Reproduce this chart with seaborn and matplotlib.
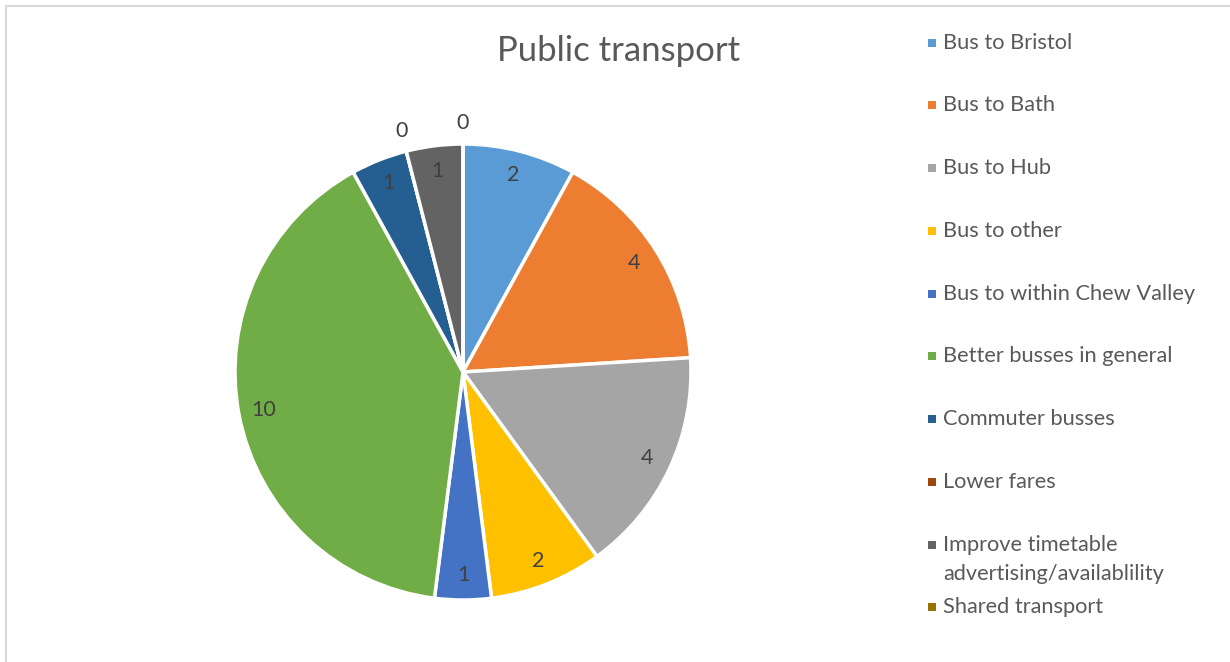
import matplotlib.pyplot as plt
import seaborn as sns
import numpy as np
from matplotlib.patches import Rectangle

# --- data ---
categories = ['Bus to Bristol', 'Bus to Bath', 'Bus to Hub', 'Bus to other',
              'Bus to within Chew Valley', 'Better busses in general',
              'Commuter busses', 'Lower fares',
              'Improve timetable\nadvertising/availablility', 'Shared transport']
counts = [2, 4, 4, 2, 1, 10, 1, 0, 1, 0]
colours = ['#5B9BD5', '#ED7D31', '#A5A5A5', '#FFC000', '#4472C4',
           '#70AD47', '#255E91', '#9E480E', '#636363', '#997300']

sns.set_theme(style="white")
plt.rcParams['font.family'] = ['Lato', 'DejaVu Sans']
text_col = '#595959'

W, H = 1230, 662
fig = plt.figure(figsize=(W / 100, H / 100), dpi=100)
fig.patch.set_facecolor('white')

# chart frame (only left/top edges are inside the picture)
fig.patches.append(Rectangle((6 / W, -0.1), 1.2, 1.1 - 6 / H, transform=fig.transFigure,
                             fill=False, edgecolor='#D9D9D9', linewidth=1.5))

# pie axes
cx, cy, r = 463, 372, 228
ax = fig.add_axes([(cx - r) / W, (H - cy - r) / H, 2 * r / W, 2 * r / H])
total = sum(counts)
wedges, _, autotexts = ax.pie(
    counts, colors=colours, startangle=90, counterclock=False,
    autopct=lambda p: f"{round(p * total / 100):d}", pctdistance=0.89,
    wedgeprops=dict(edgecolor='white', linewidth=2.5),
    textprops=dict(color='#404040', fontsize=15.5))
ax.set_xlim(-1, 1)
ax.set_ylim(-1, 1)
ax.set_aspect('equal')

# zero-count labels sit just outside the rim
for w, t, v in zip(wedges, autotexts, counts):
    if v == 0:
        ang = np.deg2rad((w.theta1 + w.theta2) / 2)
        t.set_position((1.09 * np.cos(ang), 1.09 * np.sin(ang)))

# title
fig.text(619 / W, 1 - 51 / H, 'Public transport', ha='center', va='center',
         fontsize=25, color=text_col)

# legend
rows = [43, 105, 168, 231, 294, 356, 419, 482, 545, 607]
for name, col, y in zip(categories, colours, rows):
    fig.patches.append(Rectangle((928 / W, 1 - (y + 4) / H), 8 / W, 8 / H,
                                 transform=fig.transFigure, facecolor=col, edgecolor='none'))
    for k, line in enumerate(name.split('\n')):
        fig.text(943 / W, 1 - (y + 29 * k) / H, line, ha='left', va='center',
                 fontsize=15.7, color=text_col)

fig.savefig('out.png', dpi=100)
